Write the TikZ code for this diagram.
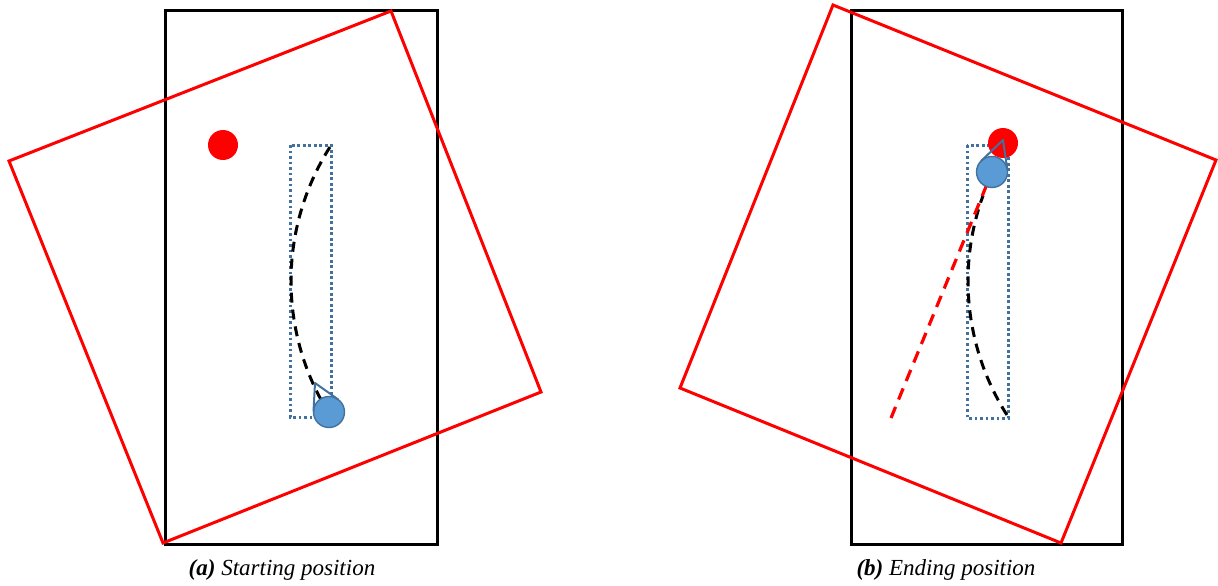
\documentclass[tikz,border=0pt]{standalone}
\usepackage{fontspec}
\setmainfont{Liberation Serif}
\usetikzlibrary{calc}
\definecolor{pinfill}{HTML}{5B9BD5}
\definecolor{pinedge}{HTML}{41719C}
\definecolor{dotblue}{HTML}{41719C}
\tikzset{
  frame/.style={draw=black, line width=3pt},
  redsq/.style={draw=red, line width=3pt, line join=miter},
  dotrect/.style={draw=dotblue, line width=3pt, dash pattern=on 2.8pt off 2.7pt},
  blackdash/.style={draw=black, line width=3pt, dash pattern=on 10pt off 7pt},
  reddash/.style={draw=red, line width=3.2pt, dash pattern=on 12pt off 8pt},
  reddot/.style={fill=red},
  pinline/.style={draw=pinedge, line width=2pt, line join=round},
  caption/.style={font=\fontsize{23}{26}\selectfont, anchor=base}
}
\begin{document}
\begin{tikzpicture}[x=1pt, y=-1pt]
\useasboundingbox (0,0) rectangle (1218,586);
% ---------- panel (a) ----------
\coordinate (aA) at (391,11);
\coordinate (aB) at (541,392);
\coordinate (aC) at (163,543);
\coordinate (aD) at (9,161);
\coordinate (aDot) at (223,145);
\coordinate (aPinC) at (329,412);
\coordinate (aPinT) at (315,383);
\draw[frame] (165,11) rectangle (437,544);
\draw[redsq] (aA) -- (aB) -- (aC) -- (aD) -- cycle;
\draw[dotrect] (290,145) rectangle (331,417);
\fill[reddot] (aDot) circle [radius=15];
\draw[blackdash] ($(541,281)+(212.4:250)$) arc [start angle=212.4, end angle=147.6, radius=250];
\fill[pinfill] (aPinC) circle [radius=15.5];
\draw[pinedge, line width=1.4pt] (aPinC) circle [radius=15.5];
\draw[pinline] ($(aPinC)+(306.4:15.5)$) -- (aPinT) -- ($(aPinC)+(182:15.5)$);
\node[caption] (capa) at (282,575) {\textbf{\textit{(a)}} \textit{Starting position}};
% ---------- panel (b) ----------
\coordinate (bA) at (833,5);
\coordinate (bB) at (1216,160);
\coordinate (bC) at (1061,543);
\coordinate (bD) at (680,388);
\coordinate (bDot) at (1003,143);
\coordinate (bPinC) at (992,172);
\coordinate (bPinT) at (1003,140);
\coordinate (bStart) at (891,418);
\draw[frame] (851,11) rectangle (1122,544);
\draw[redsq] (bA) -- (bB) -- (bC) -- (bD) -- cycle;
\draw[dotrect] (967,145) rectangle (1008,418);
\fill[reddot] (bDot) circle [radius=15];
\draw[blackdash] ($(1218,281)+(147.6:250)$) arc [start angle=147.6, end angle=200, radius=250];
\draw[reddash] (bStart) -- (bPinC);
\fill[pinfill] (bPinC) circle [radius=15.5];
\draw[pinedge, line width=1.4pt] (bPinC) circle [radius=15.5];
\draw[pinline] ($(bPinC)+(352.6:15.5)$) -- (bPinT) -- ($(bPinC)+(225.4:15.5)$);
\node[caption] (capb) at (946,575) {\textbf{\textit{(b)}} \textit{Ending position}};
\end{tikzpicture}
\end{document}
